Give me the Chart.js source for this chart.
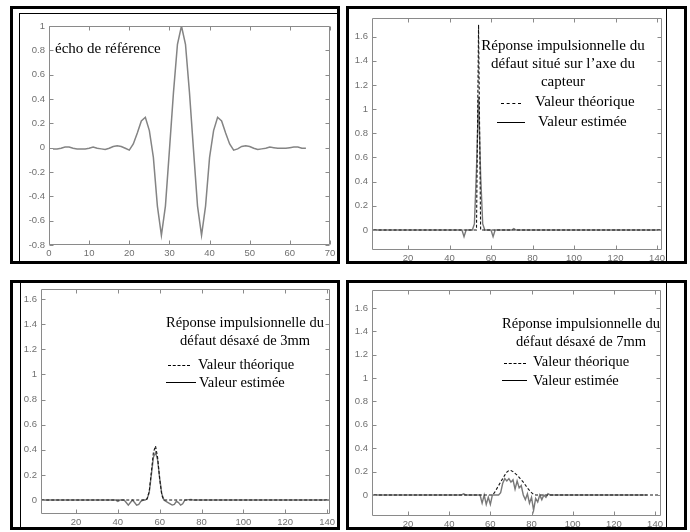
<!DOCTYPE html>
<html>
<head>
<meta charset="utf-8">
<script src="https://cdn.jsdelivr.net/npm/chart.js@4.4.1/dist/chart.umd.min.js"></script>
<style>
  body { margin: 0; background: #fff; width: 690px; height: 532px; position: relative; overflow: hidden;
         font-family: "Liberation Serif", "Times New Roman", serif; }
  .box { position: absolute; border: 3px solid #000; box-sizing: border-box; }
  .vline { position: absolute; width: 0; border-left: 1px solid #000; }
  .frame { position: absolute; border: 1px solid #000; box-sizing: border-box; }
  .plot { position: absolute; }
  .note { position: absolute; color: #000; white-space: nowrap; line-height: 18px; font-size: 15px; }
  .note.c { text-align: center; }
  .dash { position: absolute; height: 0; border-top: 1px dashed #000; }
  .solid { position: absolute; height: 0; border-top: 1px solid #000; }
</style>
</head>
<body>
<div class="box" style="left:10px;top:6px;width:330px;height:258px"></div>
<div class="box" style="left:346px;top:6px;width:341px;height:258px"></div>
<div class="box" style="left:10px;top:280px;width:330px;height:250px"></div>
<div class="box" style="left:346px;top:280px;width:341px;height:250px"></div>
<div class="frame" style="left:19px;top:13px;width:319px;height:249px"></div>
<div class="vline" style="left:666px;top:9px;height:252px"></div>
<div class="vline" style="left:20px;top:283px;height:244px"></div>
<div class="vline" style="left:666px;top:283px;height:244px"></div>

<div class="plot" style="left:9px;top:16px"><canvas id="echo" width="336" height="251"></canvas></div>
<div class="plot" style="left:332px;top:8px"><canvas id="axe" width="345" height="264"></canvas></div>
<div class="plot" style="left:1px;top:279px"><canvas id="d3" width="344" height="257"></canvas></div>
<div class="plot" style="left:332px;top:280px"><canvas id="d7" width="344" height="258"></canvas></div>

<div class="note" style="left:55px;top:39px">écho de référence</div>

<div class="note c" style="left:463px;top:36px;width:200px">Réponse impulsionnelle du<br>défaut situé sur l’axe du<br>capteur</div>
<div class="dash" style="left:501px;top:103px;width:20px"></div>
<div class="note" style="left:535px;top:92px">Valeur théorique</div>
<div class="solid" style="left:497px;top:122px;width:28px"></div>
<div class="note" style="left:538px;top:112px">Valeur estimée</div>

<div class="note c" style="left:145px;top:313px;width:200px;font-size:14.5px">Réponse impulsionnelle du<br>défaut désaxé de 3mm</div>
<div class="dash" style="left:168px;top:365px;width:22px"></div>
<div class="note" style="left:198px;top:355px;font-size:14.5px">Valeur théorique</div>
<div class="solid" style="left:166px;top:382px;width:30px"></div>
<div class="note" style="left:199px;top:373px;font-size:14.5px">Valeur estimée</div>

<div class="note c" style="left:481px;top:314px;width:200px;font-size:14.5px">Réponse impulsionnelle du<br>défaut désaxé de 7mm</div>
<div class="dash" style="left:504px;top:363px;width:22px"></div>
<div class="note" style="left:533px;top:352px;font-size:14.5px">Valeur théorique</div>
<div class="solid" style="left:502px;top:380px;width:25px"></div>
<div class="note" style="left:533px;top:371px;font-size:14.5px">Valeur estimée</div>

<script>
// écho de référence (samples 1..64)
const echoY = [
  -0.01, -0.01, -0.005, 0.005, 0.005, -0.005, -0.01, -0.01, -0.01, -0.005,
  0.005, -0.005, -0.01, -0.015, -0.005, 0.01, 0.015, 0.01, -0.005, -0.02,
  0.03, 0.12, 0.22, 0.25, 0.14, -0.08, -0.48, -0.72, -0.48, -0.02,
  0.45, 0.85, 1.0, 0.85, 0.45, -0.02, -0.48, -0.72, -0.48, -0.08,
  0.14, 0.25, 0.22, 0.12, 0.03, -0.02, -0.01, 0.01, 0.015, 0.01,
  -0.005, -0.015, -0.01, -0.005, 0.005, 0, -0.005, -0.005, -0.005, 0,
  0.005, 0.005, -0.005, -0.005
];
const echoX = echoY.map((v, i) => i + 1);
const echoXTicks = [0, 10, 20, 30, 40, 50, 60, 70];
const echoYTicks = [-0.8, -0.6, -0.4, -0.2, 0, 0.2, 0.4, 0.6, 0.8, 1];

// défaut situé sur l'axe du capteur
const axeTheoX = [1, 53, 54, 55, 143];
const axeTheoY = [0, 0, 1.7, 0, 0];
const axeEstX = [1, 46, 47, 48, 51, 52, 53, 54, 55, 56, 57, 60, 61, 62, 70, 71, 72, 143];
const axeEstY = [0, 0, -0.055, 0, 0, 0.05, 0.5, 1.1, 0.45, 0.05, 0, 0, -0.055, 0, 0, 0.012, 0, 0];

// défaut désaxé de 3mm
const d3TheoX = [1, 53, 54, 55, 56, 57, 58, 59, 60, 61, 62, 143];
const d3TheoY = [0, 0, 0.01, 0.07, 0.22, 0.38, 0.43, 0.34, 0.17, 0.04, 0, 0];
const d3EstX = [1, 39, 40, 41, 43, 44, 45, 46, 47, 48, 49, 50, 51, 52, 53, 54, 55, 56, 57, 58, 59, 60,
  61, 62, 63, 64, 65, 66, 67, 68, 69, 70, 71, 72, 75, 76, 143];
const d3EstY = [0, 0, -0.01, 0, 0, -0.02, -0.04, -0.02, 0, -0.02, -0.04, -0.035, -0.01, 0, 0, 0.01, 0.06, 0.2, 0.34, 0.38, 0.32, 0.17,
  0.05, 0, -0.01, -0.02, -0.03, -0.04, -0.035, -0.01, -0.02, -0.04, -0.03, 0, 0.005, 0, 0];

// défaut désaxé de 7mm
const d7TheoX = [1, 61, 62, 63, 64, 65, 66, 67, 68, 69, 70, 71, 72, 73, 74, 75, 76, 77, 78, 79, 80, 81, 82, 143];
const d7TheoY = [0, 0, 0.02, 0.05, 0.08, 0.11, 0.14, 0.17, 0.195, 0.21, 0.21, 0.2, 0.185, 0.17, 0.15, 0.13, 0.11,
  0.085, 0.06, 0.04, 0.02, 0.005, 0, 0];
const d7EstX = [1, 46, 47, 48, 55, 56, 57, 58, 59, 60, 61, 64, 65, 66, 67, 68, 69, 70, 71, 72, 73, 74, 75, 76,
  77, 78, 79, 80, 81, 82, 83, 84, 85, 86, 87, 88, 89, 136];
const d7EstY = [0, 0, 0.01, 0, 0, -0.07, 0, -0.08, -0.02, -0.08, 0, 0, 0.02, 0.1, 0.14, 0.12, 0.14, 0.11, 0.13, 0.05,
  0.12, 0.06, 0.08, 0, -0.04, 0.01, -0.07, -0.02, -0.13, -0.03, -0.06, 0, -0.04, 0, -0.02, 0.01, 0, 0];

const impXTicks = [20, 40, 60, 80, 100, 120, 140];
const impYTicks = [0, 0.2, 0.4, 0.6, 0.8, 1, 1.2, 1.4, 1.6];

function pts(xs, ys) {
  return xs.map((x, i) => ({ x: x, y: ys[i] }));
}

// MATLAB style box with inward ticks on all four sides
const matlabBox = {
  id: "matlabBox",
  afterDatasetsDraw(chart) {
    const { ctx, chartArea: a, scales } = chart;
    const L = a.left + 0.5, R = a.right - 0.5, T = a.top + 0.5, B = a.bottom - 0.5;
    ctx.save();
    ctx.strokeStyle = "#8a8a8a";
    ctx.lineWidth = 1;
    ctx.beginPath();
    ctx.rect(L, T, R - L, B - T);
    scales.x.ticks.forEach((t) => {
      const px = Math.round(scales.x.getPixelForValue(t.value)) + 0.5;
      ctx.moveTo(px, B); ctx.lineTo(px, B - 4);
      ctx.moveTo(px, T); ctx.lineTo(px, T + 4);
    });
    scales.y.ticks.forEach((t) => {
      const py = Math.round(scales.y.getPixelForValue(t.value)) + 0.5;
      ctx.moveTo(L, py); ctx.lineTo(L + 4, py);
      ctx.moveTo(R, py); ctx.lineTo(R - 4, py);
    });
    ctx.stroke();
    ctx.restore();
  }
};

function makePlot(id, datasets, xr, yr, xTicks, yTicks) {
  const tickFont = { family: "'Liberation Sans', Arial, sans-serif", size: 9.5 };
  const ctx = document.getElementById(id).getContext("2d");
  return new Chart(ctx, {
    type: "line",
    data: { datasets: datasets },
    options: {
      responsive: false,
      animation: false,
      devicePixelRatio: 1,
      events: [],
      layout: { padding: { left: 0, top: 10, right: 15, bottom: 0 } },
      plugins: { legend: { display: false }, tooltip: { enabled: false } },
      elements: { point: { radius: 0 }, line: { tension: 0 } },
      scales: {
        x: {
          type: "linear",
          min: xr[0],
          max: xr[1],
          grid: { display: false, drawTicks: false },
          border: { display: false },
          afterBuildTicks: (s) => { s.ticks = xTicks.map((v) => ({ value: v })); },
          afterFit: (s) => { s.height = 22; },
          ticks: { font: tickFont, color: "#707070", padding: 3, maxRotation: 0, autoSkip: false,
                   callback: (v) => String(v) }
        },
        y: {
          type: "linear",
          min: yr[0],
          max: yr[1],
          grid: { display: false, drawTicks: false },
          border: { display: false },
          afterBuildTicks: (s) => { s.ticks = yTicks.map((v) => ({ value: v })); },
          afterFit: (s) => { s.width = 40; },
          ticks: { font: tickFont, color: "#707070", padding: 4, autoSkip: false,
                   callback: (v) => String(v) }
        }
      }
    },
    plugins: [matlabBox]
  });
}

function theo(xs, ys) {
  return { label: "Valeur théorique", data: pts(xs, ys), borderColor: "#151515", borderWidth: 1.1,
           borderDash: [3, 2], fill: false };
}
function est(xs, ys) {
  return { label: "Valeur estimée", data: pts(xs, ys), borderColor: "#787878", borderWidth: 1.4, fill: false };
}

makePlot("echo",
  [{ label: "écho de référence", data: pts(echoX, echoY), borderColor: "#848484", borderWidth: 1.5, fill: false }],
  [0, 70], [-0.8, 1], echoXTicks, echoYTicks);

makePlot("axe", [theo(axeTheoX, axeTheoY), est(axeEstX, axeEstY)],
  [2.65, 142.4], [-0.166, 1.755], impXTicks, impYTicks);

makePlot("d3", [theo(d3TheoX, d3TheoY), est(d3EstX, d3EstY)],
  [3.27, 141.4], [-0.111, 1.68], impXTicks, impYTicks);

makePlot("d7", [theo(d7TheoX, d7TheoY), est(d7EstX, d7EstY)],
  [2.5, 142.9], [-0.18, 1.754], impXTicks, impYTicks);
</script>
</body>
</html>
